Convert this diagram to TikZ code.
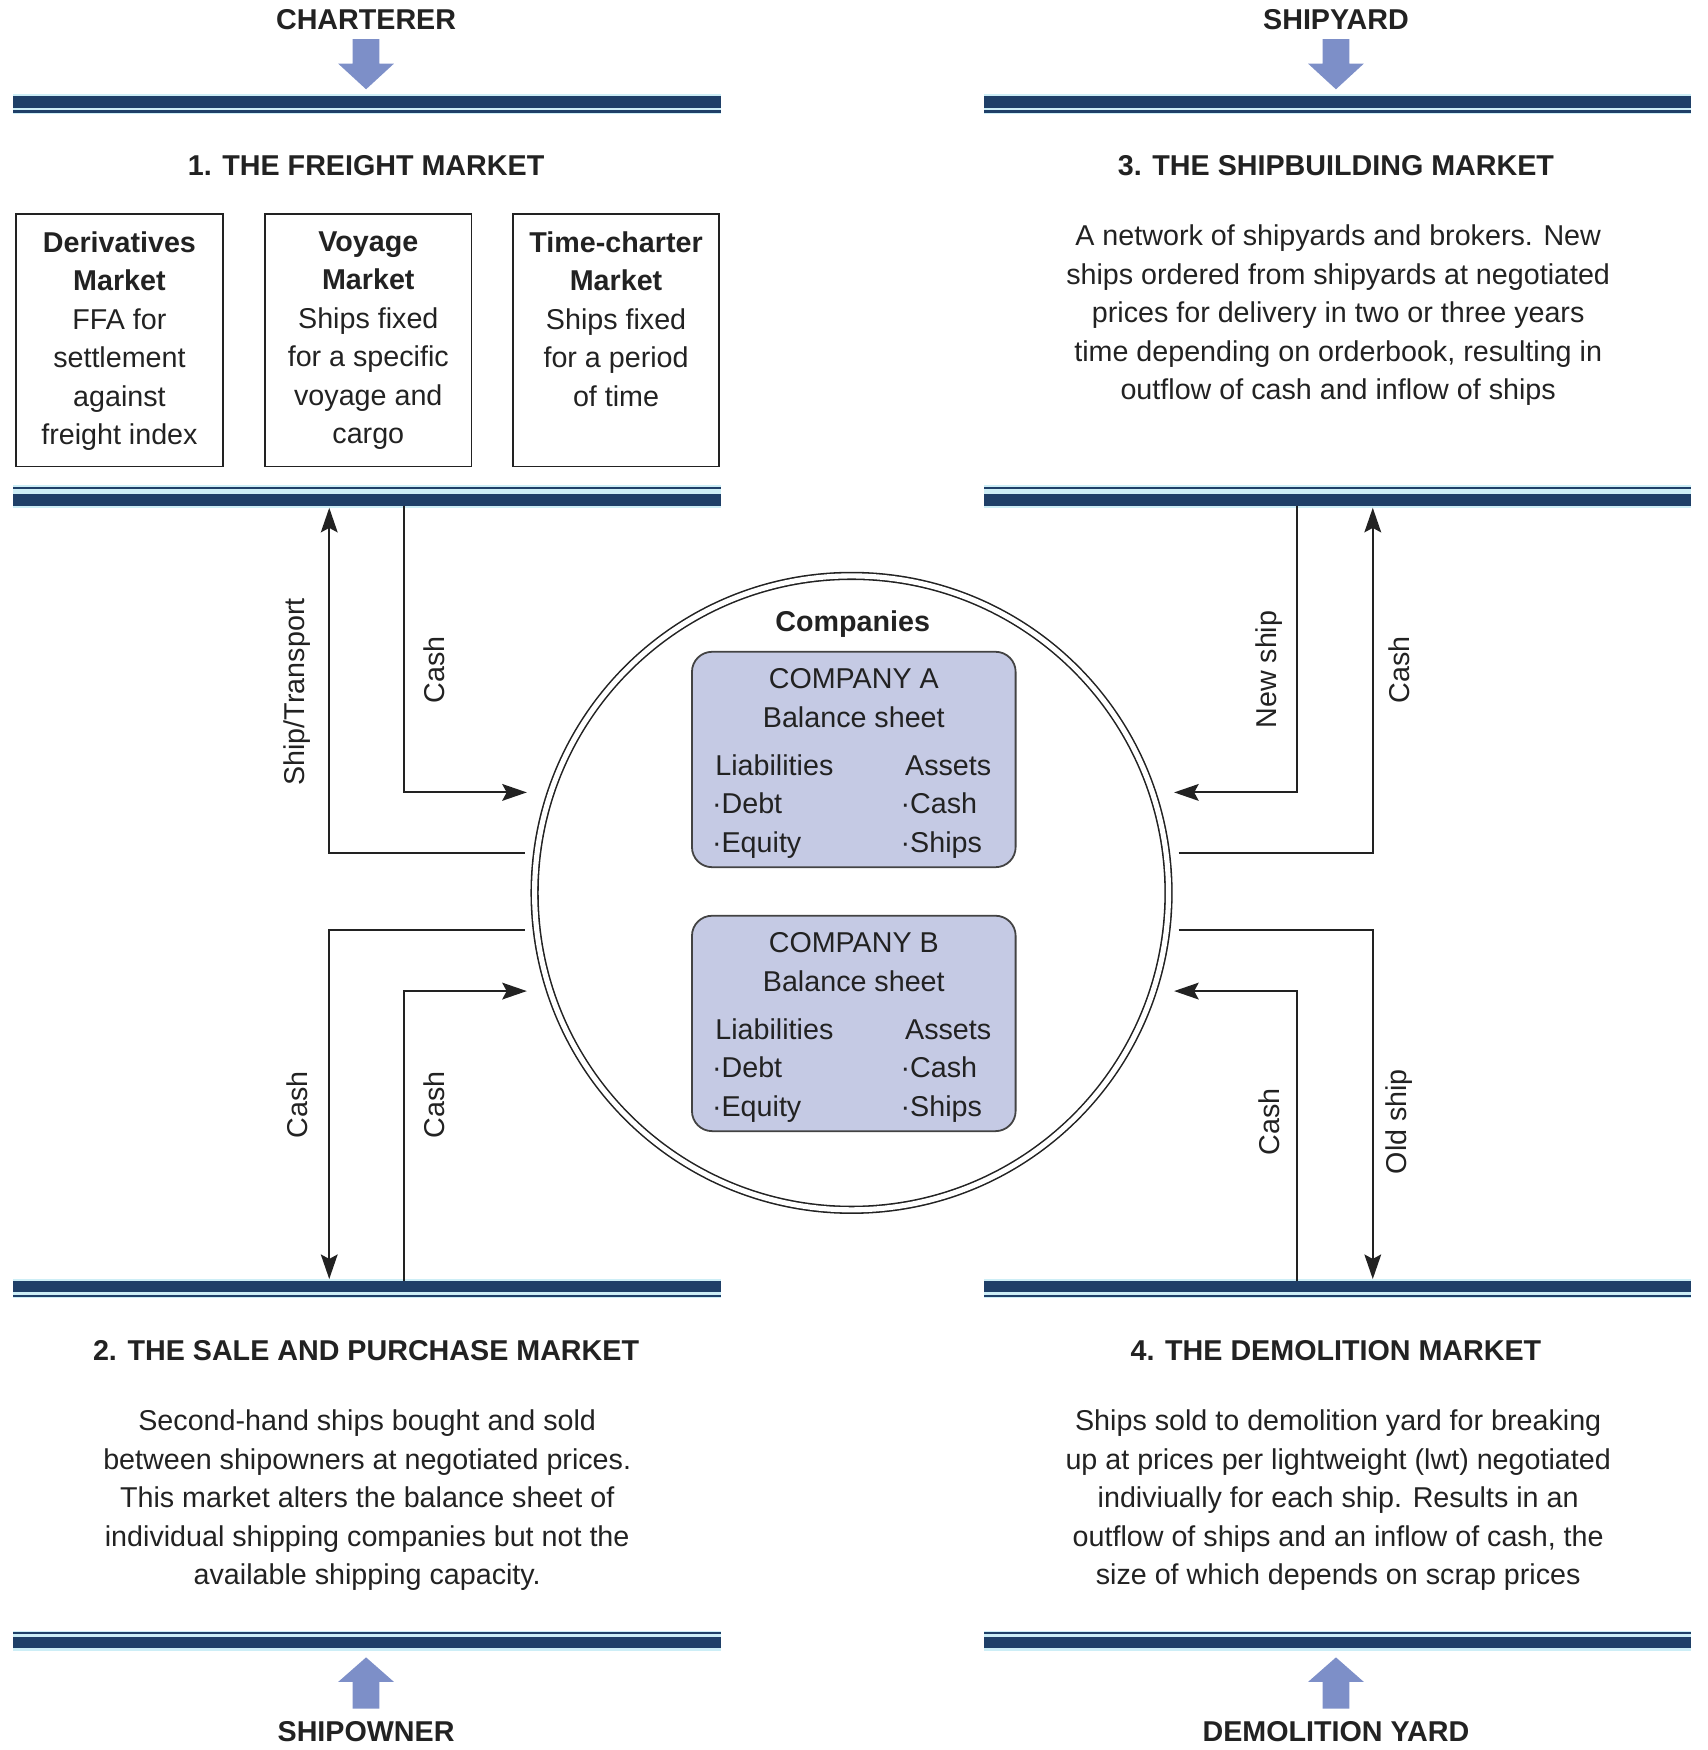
\documentclass[tikz,border=0pt]{standalone}
\usepackage{fontspec}
\setmainfont{Liberation Sans}
\usetikzlibrary{arrows.meta}
\definecolor{navy}{RGB}{31,63,104}
\definecolor{paleline}{RGB}{205,238,246}
\definecolor{feedblue}{RGB}{125,143,200}
\definecolor{sheetfill}{RGB}{197,202,228}
\definecolor{ink}{RGB}{34,34,34}
\begin{document}
\begin{tikzpicture}[x=1pt,y=-1pt,
  every node/.style={text=ink, font=\fontsize{25.7}{34.5}\selectfont, inner sep=0pt, outer sep=0pt},
  title/.style={font=\fontsize{25.7}{34.5}\selectfont\bfseries},
  para/.style={align=center},
  mkbox/.style={draw=ink, line width=1.6, minimum width=185, minimum height=226},
  sheet/.style={draw=ink!85, fill=sheetfill, line width=1.6, rounded corners=18,
                minimum width=290, minimum height=193},
  flow/.style={draw=ink, line width=1.8, -{Stealth[length=22pt,width=15pt,inset=4pt]}},
  flowlabel/.style={rotate=90},
  feed/.style={fill=feedblue},
]
\useasboundingbox (0,0) rectangle (1530,1568);

% ---------- market bars (thick navy band, pale gap, thin navy rule) ----------
\foreach \xa/\xb in {12/646, 882/1515}{
  % upper bar of the top markets
  \fill[paleline] (\xa,84) rectangle (\xb,102);
  \fill[navy] (\xa,86) rectangle (\xb,97);
  \fill[navy] (\xa,99) rectangle (\xb,101);
  % lower bar of the top markets
  \fill[paleline] (\xa,435) rectangle (\xb,455);
  \fill[navy] (\xa,436) rectangle (\xb,438);
  \fill[navy] (\xa,443) rectangle (\xb,453);
  % upper bar of the bottom markets
  \fill[paleline] (\xa,1146) rectangle (\xb,1163);
  \fill[navy] (\xa,1148) rectangle (\xb,1158);
  \fill[navy] (\xa,1160) rectangle (\xb,1162);
  % lower bar of the bottom markets
  \fill[paleline] (\xa,1461) rectangle (\xb,1479);
  \fill[navy] (\xa,1462) rectangle (\xb,1464);
  \fill[navy] (\xa,1467) rectangle (\xb,1477);
}

% ---------- participants and their feed arrows ----------
\node[title, anchor=base] (charterer) at (328,26) {CHARTERER};
\node[title, anchor=base] (shipyard) at (1197,26) {SHIPYARD};
\node[title, anchor=base] (shipowner) at (328,1560) {SHIPOWNER};
\node[title, anchor=base] (demyard) at (1197,1560) {DEMOLITION YARD};

\foreach \cx in {328,1197}{
  \fill[feed, shift={(\cx,0)}] (-12,35) -- (12,35) -- (12,57) -- (25,57) -- (0,80)
        -- (-25,57) -- (-12,57) -- cycle;
  \fill[feed, shift={(\cx,0)}] (-12,1531) -- (12,1531) -- (12,1507) -- (25,1507) -- (0,1485)
        -- (-25,1507) -- (-12,1507) -- cycle;
}

% ---------- 1. freight market ----------
\node[title, anchor=base] (fmtitle) at (328,157) {1. THE FREIGHT MARKET};
\node[mkbox] (deriv) at (107,305) {};
\node[mkbox] (voyage) at (330,305) {};
\node[mkbox] (tc) at (552,305) {};
\node[para, anchor=north] at ([yshift=-15.5pt]deriv.north)
  {\textbf{Derivatives}\\\textbf{Market}\\FFA for\\settlement\\against\\freight index};
\node[para, anchor=north] at ([yshift=-15.5pt]voyage.north)
  {\textbf{Voyage}\\\textbf{Market}\\Ships fixed\\for a specific\\voyage and\\cargo};
\node[para, anchor=north] at ([yshift=-15.5pt]tc.north)
  {\textbf{Time-charter}\\\textbf{Market}\\Ships fixed\\for a period\\of time};

% ---------- 3. shipbuilding market ----------
\node[title, anchor=base] (sbtitle) at (1197,157) {3. THE SHIPBUILDING MARKET};
\node[para, anchor=north] (sbtext) at (1199,201.5)
  {A network of shipyards and brokers. New\\
   ships ordered from shipyards at negotiated\\
   prices for delivery in two or three years\\
   time depending on orderbook, resulting in\\
   outflow of cash and inflow of ships};

% ---------- 2. sale and purchase market ----------
\node[title, anchor=base] (sptitle) at (328,1219) {2. THE SALE AND PURCHASE MARKET};
\node[para, anchor=north] (sptext) at (329,1263.5)
  {Second-hand ships bought and sold\\
   between shipowners at negotiated prices.\\
   This market alters the balance sheet of\\
   individual shipping companies but not the\\
   available shipping capacity.};

% ---------- 4. demolition market ----------
\node[title, anchor=base] (dmtitle) at (1197,1219) {4. THE DEMOLITION MARKET};
\node[para, anchor=north] (dmtext) at (1199,1263.5)
  {Ships sold to demolition yard for breaking\\
   up at prices per lightweight (lwt) negotiated\\
   indiviually for each ship. Results in an\\
   outflow of ships and an inflow of cash, the\\
   size of which depends on scrap prices};

% ---------- companies ----------
\node[circle, draw=ink, line width=1.4, double=white, double distance=4.6,
      minimum size=568] (ring) at (763,800) {};
\node[title, anchor=base] (comptitle) at (764,566) {Companies};

\foreach \nm/\cy/\letter in {sheetA/680.5/A, sheetB/917/B}{
  \node[sheet] (\nm) at (765,\cy) {};
  \node[anchor=base] at ([yshift=64pt]\nm.center) {COMPANY \letter};
  \node[anchor=base] at ([yshift=29pt]\nm.center) {Balance sheet};
  \node[anchor=base west] at ([xshift=-124pt,yshift=-14.5pt]\nm.center) {Liabilities};
  \node[anchor=base west] at ([xshift=-127pt,yshift=-48.5pt]\nm.center) {·Debt};
  \node[anchor=base west] at ([xshift=-127pt,yshift=-83.5pt]\nm.center) {·Equity};
  \node[anchor=base west] at ([xshift=46pt,yshift=-14.5pt]\nm.center) {Assets};
  \node[anchor=base west] at ([xshift=42pt,yshift=-48.5pt]\nm.center) {·Cash};
  \node[anchor=base west] at ([xshift=42pt,yshift=-83.5pt]\nm.center) {·Ships};
}

% ---------- connector end points ----------
\coordinate (fmOut) at (362,453);
\coordinate (fmIn) at (295,455);
\coordinate (spOut) at (362,1148);
\coordinate (spIn) at (295,1146);
\coordinate (sbOut) at (1162,453);
\coordinate (sbIn) at (1230,455);
\coordinate (dmOut) at (1162,1148);
\coordinate (dmIn) at (1230,1146);
\coordinate (ringW1) at (472,710);
\coordinate (ringW2) at (470,764);
\coordinate (ringW3) at (470,833);
\coordinate (ringW4) at (472,888);
\coordinate (ringE1) at (1052,710);
\coordinate (ringE2) at (1056,764);
\coordinate (ringE3) at (1056,833);
\coordinate (ringE4) at (1052,888);

% ---------- flows ----------
\draw[flow] (fmOut) |- (ringW1);
\draw[flow] (ringW2) -| (fmIn);
\draw[flow] (ringW3) -| (spIn);
\draw[flow] (spOut) |- (ringW4);
\draw[flow] (sbOut) |- (ringE1);
\draw[flow] (ringE2) -| (sbIn);
\draw[flow] (dmOut) |- (ringE4);
\draw[flow] (ringE3) -| (dmIn);

\node[flowlabel] at (266,620) {Ship/Transport};
\node[flowlabel] at (389,600) {Cash};
\node[flowlabel] at (266,990) {Cash};
\node[flowlabel] at (389,990) {Cash};
\node[flowlabel] at (1137,600) {New ship};
\node[flowlabel] at (1254,600) {Cash};
\node[flowlabel] at (1137,1005) {Cash};
\node[flowlabel] at (1254,1005) {Old ship};
\end{tikzpicture}
\end{document}
